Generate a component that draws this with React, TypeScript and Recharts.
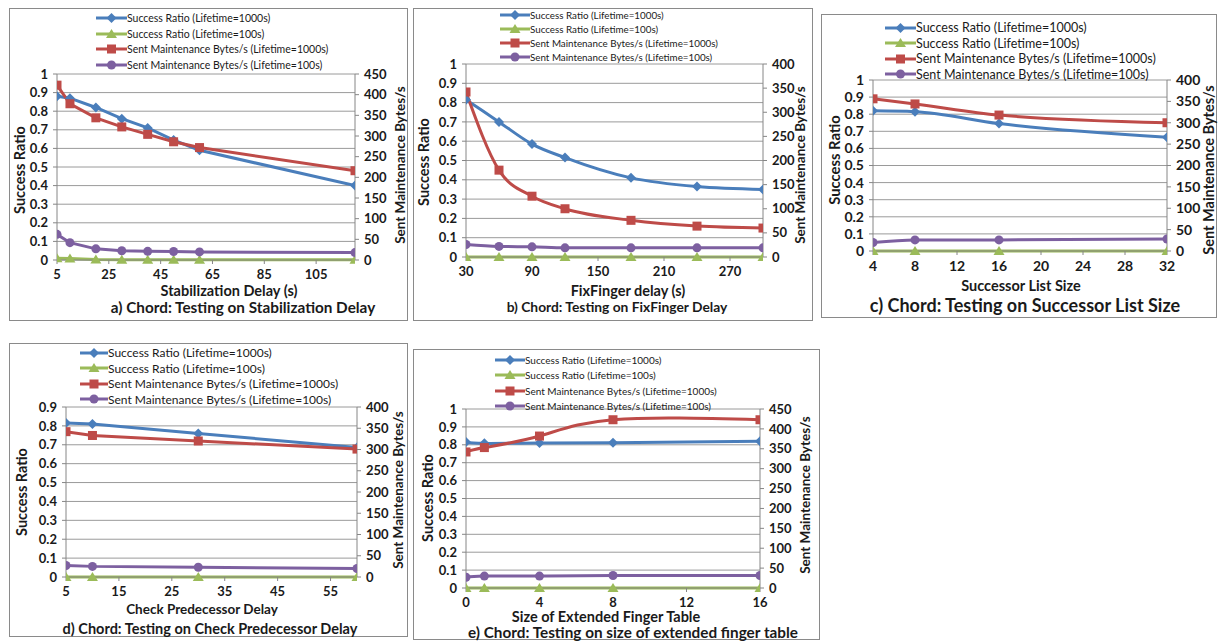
import React from "react";
import { CartesianGrid, Legend, Line, LineChart, XAxis, YAxis } from "recharts";

// panel a) stabilization delay
const aDelay = [5, 10, 20, 30, 40, 50, 60, 120];
const aSuccess1000 = [0.88, 0.87, 0.82, 0.76, 0.71, 0.645, 0.59, 0.4];
const aSuccess100 = [0.01, 0.008, 0.003, 0.002, 0.002, 0.002, 0.002, 0.001];
const aBytes1000 = [423, 378, 344, 322, 304, 286, 272, 216];
const aBytes100 = [62, 42, 27, 22.5, 21, 20.5, 19.5, 18];
const aTicks = [5, 25, 45, 65, 85, 105];

// panel b) fixfinger delay
const bDelay = [30, 60, 90, 120, 180, 240, 300];
const bSuccess1000 = [0.815, 0.7, 0.585, 0.515, 0.41, 0.365, 0.35];
const bSuccess100 = [0, 0, 0, 0, 0, 0, 0];
const bBytes1000 = [342, 180, 126, 100, 76, 64, 60];
const bBytes100 = [26, 22, 21, 19, 19, 19, 19];
const bTicks = [30, 90, 150, 210, 270];

// panel c) successor list size
const cSize = [4, 8, 16, 32];
const cSuccess1000 = [0.82, 0.815, 0.745, 0.665];
const cSuccess100 = [0, 0, 0, 0];
const cBytes1000 = [356, 344, 318, 300];
const cBytes100 = [20, 26, 26, 28];
const cTicks = [4, 8, 12, 16, 20, 24, 28, 32];

// panel d) check predecessor delay
const dDelay = [5, 10, 30, 60];
const dSuccess1000 = [0.815, 0.81, 0.76, 0.685];
const dSuccess100 = [0, 0, 0, 0];
const dBytes1000 = [342, 333, 320, 301];
const dBytes100 = [27, 25, 23, 20];
const dTicks = [5, 15, 25, 35, 45, 55];

// panel e) extended finger table
const eSize = [0, 1, 4, 8, 16];
const eSuccess1000 = [0.815, 0.808, 0.81, 0.812, 0.82];
const eSuccess100 = [0, 0, 0, 0, 0];
const eBytes1000 = [342, 353, 382, 423, 423];
const eBytes100 = [27, 30, 30, 31.5, 31.5];
const eTicks = [0, 4, 8, 12, 16];

const ratioTicks10 = [0, 0.1, 0.2, 0.3, 0.4, 0.5, 0.6, 0.7, 0.8, 0.9, 1];
const ratioTicks09 = [0, 0.1, 0.2, 0.3, 0.4, 0.5, 0.6, 0.7, 0.8, 0.9];
const bytesTicks450 = [0, 50, 100, 150, 200, 250, 300, 350, 400, 450];
const bytesTicks400 = [0, 50, 100, 150, 200, 250, 300, 350, 400];

const FONT = "Lato, 'Open Sans', sans-serif";
const BLUE = "#4a7ebb";
const GREEN = "#9bbb59";
const RED = "#be4b48";
const PURPLE = "#7d60a0";

const SERIES = [
  { key: "sr1000", name: "Success Ratio (Lifetime=1000s)", color: BLUE, shape: "diamond", axis: "left" },
  { key: "sr100", name: "Success Ratio (Lifetime=100s)", color: GREEN, shape: "triangle", axis: "left" },
  { key: "mb1000", name: "Sent Maintenance Bytes/s (Lifetime=1000s)", color: RED, shape: "square", axis: "right" },
  { key: "mb100", name: "Sent Maintenance Bytes/s (Lifetime=100s)", color: PURPLE, shape: "circle", axis: "right" },
];

function Marker({ cx, cy, shape, color }: any) {
  if (cx == null || cy == null) return <g />;
  if (shape === "diamond")
    return <polygon points={`${cx},${cy - 5} ${cx + 5},${cy} ${cx},${cy + 5} ${cx - 5},${cy}`} fill={color} />;
  if (shape === "triangle")
    return <polygon points={`${cx},${cy - 5} ${cx + 5.5},${cy + 4} ${cx - 5.5},${cy + 4}`} fill={color} />;
  if (shape === "square") return <rect x={cx - 4.5} y={cy - 4.5} width={9} height={9} fill={color} />;
  return <circle cx={cx} cy={cy} r={4.5} fill={color} />;
}

const panels = [
  {
    id: "a",
    x: aDelay, sr1000: aSuccess1000, sr100: aSuccess100, mb1000: aBytes1000, mb100: aBytes100,
    xTicks: aTicks, xDomain: [5, 120], leftTicks: ratioTicks10, rightTicks: bytesTicks450,
    curve: "linear",
    box: { x: 9, y: 8, w: 399, h: 313 },
    plot: { l: 57, r: 355, t: 74, b: 260 },
    tickSize: 13,
    legend: { x: 96, y: 10, row: 15.7, font: 10.5, lineW: 31 },
    xTitle: { text: "Stabilization Delay (s)", cx: 229, cy: 291, size: 14.5 },
    sub: { text: "a) Chord: Testing on Stabilization Delay", cx: 243, cy: 308, size: 15.3 },
    yTitle: { cx: 20, cy: 170, size: 14.5 },
    y2Title: { cx: 401, cy: 165, size: 13.5 },
  },
  {
    id: "b",
    x: bDelay, sr1000: bSuccess1000, sr100: bSuccess100, mb1000: bBytes1000, mb100: bBytes100,
    xTicks: bTicks, xDomain: [30, 300], leftTicks: ratioTicks10, rightTicks: bytesTicks400,
    curve: "monotone",
    box: { x: 413, y: 8, w: 400, h: 313 },
    plot: { l: 466, r: 763, t: 64, b: 257 },
    tickSize: 13,
    legend: { x: 500, y: 8, row: 14, font: 9.8, lineW: 30 },
    xTitle: { text: "FixFinger delay (s)", cx: 628, cy: 291, size: 14.5 },
    sub: { text: "b) Chord: Testing on FixFinger Delay", cx: 617, cy: 307, size: 13.8 },
    yTitle: { cx: 424, cy: 162, size: 14.5 },
    y2Title: { cx: 801, cy: 165, size: 13.5 },
  },
  {
    id: "c",
    x: cSize, sr1000: cSuccess1000, sr100: cSuccess100, mb1000: cBytes1000, mb100: cBytes100,
    xTicks: cTicks, xDomain: [4, 32], leftTicks: ratioTicks10, rightTicks: bytesTicks400,
    curve: "monotone",
    box: { x: 821, y: 14, w: 396, h: 304 },
    plot: { l: 873, r: 1167, t: 80, b: 251 },
    tickSize: 14,
    legend: { x: 885, y: 20, row: 15.5, font: 12.5, lineW: 31 },
    xTitle: { text: "Successor List Size", cx: 1021, cy: 286, size: 14.5 },
    sub: { text: "c) Chord: Testing on Successor List Size", cx: 1025, cy: 305, size: 18 },
    yTitle: { cx: 834, cy: 160, size: 14.8 },
    y2Title: { cx: 1209, cy: 170, size: 14.5 },
  },
  {
    id: "d",
    x: dDelay, sr1000: dSuccess1000, sr100: dSuccess100, mb1000: dBytes1000, mb100: dBytes100,
    xTicks: dTicks, xDomain: [5, 60], leftTicks: ratioTicks09, rightTicks: bytesTicks400,
    curve: "linear",
    box: { x: 9, y: 343, w: 399, h: 294 },
    plot: { l: 66, r: 357, t: 407, b: 577 },
    tickSize: 13,
    legend: { x: 80, y: 345, row: 15.5, font: 12, lineW: 28 },
    xTitle: { text: "Check Predecessor Delay", cx: 202, cy: 610, size: 13.5 },
    sub: { text: "d) Chord: Testing on Check Predecessor Delay", cx: 210, cy: 629, size: 14.5 },
    yTitle: { cx: 22, cy: 492, size: 14.5 },
    y2Title: { cx: 399, cy: 490, size: 13.5 },
  },
  {
    id: "e",
    x: eSize, sr1000: eSuccess1000, sr100: eSuccess100, mb1000: eBytes1000, mb100: eBytes100,
    xTicks: eTicks, xDomain: [0, 16], leftTicks: ratioTicks10, rightTicks: bytesTicks450,
    curve: "natural",
    box: { x: 413, y: 349, w: 407, h: 291 },
    plot: { l: 466, r: 760, t: 409, b: 588 },
    tickSize: 13,
    legend: { x: 495, y: 352, row: 15.5, font: 10, lineW: 30 },
    xTitle: { text: "Size of Extended Finger Table", cx: 606, cy: 617, size: 14.5 },
    sub: { text: "e) Chord: Testing on size of extended finger table", cx: 633, cy: 633, size: 15.3 },
    yTitle: { cx: 428, cy: 498, size: 14.5 },
    y2Title: { cx: 806, cy: 495, size: 13.5 },
  },
];

function Title({ t, rotate }: any) {
  return (
    <div
      style={{
        position: "absolute",
        left: t.cx,
        top: t.cy,
        transform: `translate(-50%, -50%)${rotate ? " rotate(-90deg)" : ""}`,
        fontFamily: FONT,
        fontWeight: 700,
        fontSize: t.size,
        color: "#1a1a1a",
        whiteSpace: "nowrap",
        lineHeight: 1,
      }}
    >
      {t.text}
    </div>
  );
}

function Panel({ cfg }: any) {
  const { box, plot, legend } = cfg;
  const leftW = 30;
  const rightW = 30;
  const xH = 20;
  const margin = {
    top: plot.t - box.y,
    bottom: box.y + box.h - plot.b - xH,
    left: plot.l - box.x - leftW,
    right: box.x + box.w - plot.r - rightW,
  };
  const data = cfg.x.map((x: number, i: number) => ({
    x,
    sr1000: cfg.sr1000[i],
    sr100: cfg.sr100[i],
    mb1000: cfg.mb1000[i],
    mb100: cfg.mb100[i],
  }));
  const tickStyle = { fill: "#1a1a1a", fontSize: cfg.tickSize, fontWeight: 700, fontFamily: FONT };

  const renderLegend = () => (
    <div style={{ fontFamily: FONT, fontSize: legend.font, color: "#1a1a1a" }}>
      {SERIES.map((s) => (
        <div key={s.key} style={{ display: "flex", alignItems: "center", height: legend.row, whiteSpace: "nowrap" }}>
          <svg width={legend.lineW} height={10} style={{ flex: "none" }}>
            <line x1={0} x2={legend.lineW} y1={5} y2={5} stroke={s.color} strokeWidth={3} />
            <Marker cx={legend.lineW / 2} cy={5} shape={s.shape} color={s.color} />
          </svg>
          <span>{s.name}</span>
        </div>
      ))}
    </div>
  );

  return (
    <>
      <div
        style={{
          position: "absolute",
          left: box.x,
          top: box.y,
          width: box.w,
          height: box.h,
          border: "1px solid #8a8a8a",
          boxSizing: "border-box",
        }}
      />
      <div style={{ position: "absolute", left: box.x, top: box.y }}>
        <LineChart width={box.w} height={box.h} margin={margin} data={data}>
          <CartesianGrid yAxisId="left" vertical={false} stroke="#9a9a9a" strokeWidth={1} />
          <XAxis
            dataKey="x"
            type="number"
            domain={cfg.xDomain}
            ticks={cfg.xTicks}
            interval={0}
            allowDataOverflow
            height={xH}
            tickSize={4}
            tickMargin={6}
            stroke="#868686"
            tick={tickStyle}
          />
          <YAxis
            yAxisId="left"
            domain={[0, cfg.leftTicks[cfg.leftTicks.length - 1]]}
            ticks={cfg.leftTicks}
            interval={0}
            width={leftW}
            tickSize={4}
            tickMargin={5}
            stroke="#868686"
            tick={tickStyle}
          />
          <YAxis
            yAxisId="right"
            orientation="right"
            domain={[0, cfg.rightTicks[cfg.rightTicks.length - 1]]}
            ticks={cfg.rightTicks}
            interval={0}
            width={rightW}
            tickSize={4}
            tickMargin={5}
            stroke="#868686"
            tick={tickStyle}
          />
          <Legend
            layout="vertical"
            align="center"
            verticalAlign="middle"
            content={renderLegend}
            wrapperStyle={{ left: legend.x - box.x, top: legend.y - box.y, width: "auto", height: "auto" }}
          />
          {SERIES.map((s) => (
            <Line
              key={s.key}
              yAxisId={s.axis}
              dataKey={s.key}
              name={s.name}
              type={cfg.curve}
              stroke={s.color}
              strokeWidth={3}
              isAnimationActive={false}
              dot={(p: any) => (
                <Marker key={`${cfg.id}-${s.key}-${p.index}`} cx={p.cx} cy={p.cy} shape={s.shape} color={s.color} />
              )}
              activeDot={false}
            />
          ))}
        </LineChart>
      </div>
      <Title t={cfg.xTitle} />
      <Title t={cfg.sub} />
      <Title t={{ ...cfg.yTitle, text: "Success Ratio" }} rotate />
      <Title t={{ ...cfg.y2Title, text: "Sent Maintenance Bytes/s" }} rotate />
    </>
  );
}

export default function App() {
  return (
    <div style={{ position: "absolute", left: 0, top: 0, width: 1219, height: 643, background: "#fff", overflow: "hidden" }}>
      {panels.map((p) => (
        <Panel key={p.id} cfg={p} />
      ))}
    </div>
  );
}
